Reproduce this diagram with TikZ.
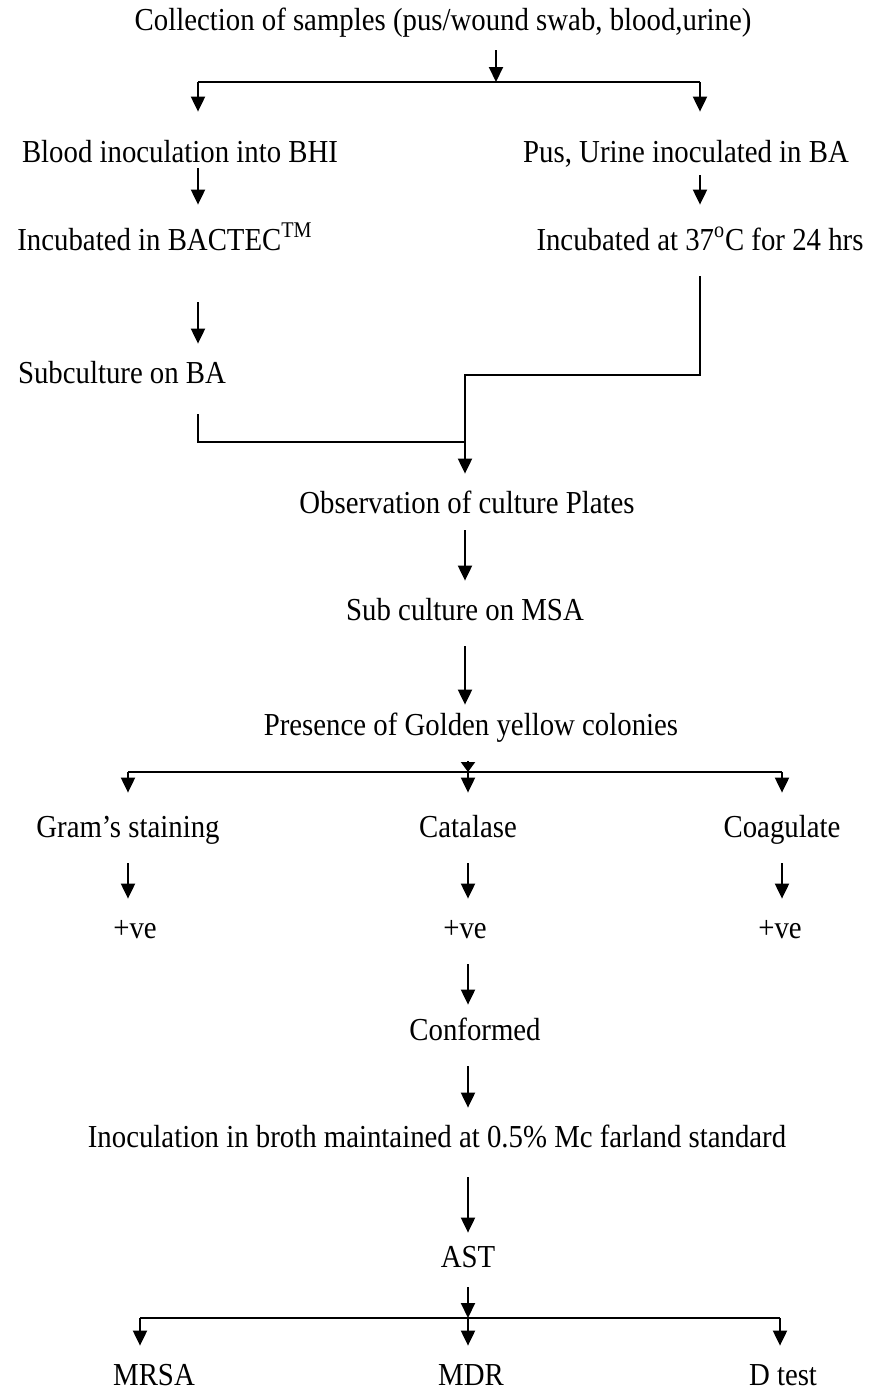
\documentclass[tikz,border=0pt]{standalone}
\usepackage{fontspec}
\setmainfont[FakeStretch=0.9]{Liberation Serif}
\usetikzlibrary{arrows.meta}
\tikzset{
    txt/.style = {inner xsep=0pt, inner ysep=9pt, text height=10.5pt, text depth=4pt, anchor=base, font=\fontsize{16}{19}\selectfont},
    edgea/.style = {-{Triangle[length=7.5pt,width=7pt]}, line width=1pt},
    edgeh/.style = {-{Triangle[length=5pt,width=7pt]}, line width=1pt}, % short head
    edgep/.style = {-, line width=1pt},
}
\begin{document}
\begin{tikzpicture}[x=0.5pt,y=-0.5pt]
\useasboundingbox (0,0) rectangle (886,1394);
%
\node[txt] at (443,30) (coll) {Collection of samples (pus/wound swab, blood,urine)};
\node[txt] at (180,162) (blood) {Blood inoculation into BHI};
\node[txt] at (686,162) (pus) {Pus, Urine inoculated in BA};
\node[txt] at (165,250) (incl) {Incubated in BACTEC\textsuperscript{TM}};
\node[txt] at (700,250) (incr) {Incubated at 37\textsuperscript{o}C for 24 hrs};
\node[txt] at (122,383) (subba) {Subculture on BA};
\node[txt] at (467,513) (obs) {Observation of culture Plates};
\node[txt] at (465,620) (msa) {Sub culture on MSA};
\node[txt] at (471,735) (pres) {Presence of Golden yellow colonies};
\node[txt] at (128,837) (gram) {Gram’s staining};
\node[txt] at (468,837) (cat) {Catalase};
\node[txt] at (782,837) (coag) {Coagulate};
\node[txt] at (135,938) (pos1) {+ve};
\node[txt] at (465,938) (pos2) {+ve};
\node[txt] at (780,938) (pos3) {+ve};
\node[txt] at (475,1040) (conf) {Conformed};
\node[txt] at (437,1147) (inoc) {Inoculation in broth maintained at 0.5\% Mc farland standard};
\node[txt] at (468,1267) (ast) {AST};
\node[txt] at (154,1385) (mrsa) {MRSA};
\node[txt] at (471,1385) (mdr) {MDR};
\node[txt] at (783,1385) (dtest) {D test};
%
\coordinate (top) at (496,82);
\coordinate (fl) at (198,82);
\coordinate (fr) at (700,82);
\coordinate (jn) at (465,375);
\coordinate (jn2) at (465,442);
\coordinate (mid) at (468,772);
\coordinate (gl) at (128,772);
\coordinate (gr) at (782,772);
\coordinate (bot) at (468,1318);
\coordinate (bl) at (140,1318);
\coordinate (br) at (780,1318);
%
\draw[edgea,shorten <=-3pt] (coll.south -| top) -- (top);
\draw[edgep] (fl) -- (fr);
\draw[edgea,shorten >=5.5pt] (fl) -- (blood.north -| fl);
\draw[edgea,shorten >=5.5pt] (fr) -- (pus.north -| fr);
\draw[edgea,shorten <=-10pt,shorten >=3pt] (blood.south -| fl) -- (incl.north -| fl);
\draw[edgea,shorten <=-6.5pt,shorten >=3pt] (pus.south -| fr) -- (incr.north -| fr);
\draw[edgea,shorten <=13pt] (incl.south -| fl) -- (subba.north -| fl);
\draw[edgea] (incr.south -| fr) |- (jn) -- (obs.north -| jn);
\draw[edgep,shorten <=2.5pt] (subba.south -| fl) |- (jn2);
\draw[edgea,shorten <=-4.5pt] (obs.south -| jn) -- (msa.north -| jn);
\draw[edgea,shorten >=-4.5pt] (msa.south -| jn) -- (pres.north -| jn);
%
\draw[edgeh] (pres.south -| mid) -- (mid);
\draw[edgep] (gl) -- (gr);
\draw[edgea,shorten >=2.5pt] (gl) -- (gram.north -| gl);
\draw[edgea,shorten >=2.5pt] (mid) -- (cat.north -| mid);
\draw[edgea,shorten >=2.5pt] (gr) -- (coag.north -| gr);
\draw[edgea] (gram.south -| gl) -- (pos1.north -| gl);
\draw[edgea] (cat.south -| mid) -- (pos2.north -| mid);
\draw[edgea] (coag.south -| gr) -- (pos3.north -| gr);
\draw[edgea,shorten >=-2pt] (pos2.south -| mid) -- (conf.north -| mid);
\draw[edgea] (conf.south -| mid) -- (inoc.north -| mid);
\draw[edgea,shorten <=2pt,shorten >=-2.5pt] (inoc.south -| mid) -- (ast.north -| mid);
%
\draw[edgea,shorten <=-3pt] (ast.south -| bot) -- (bot);
\draw[edgep] (bl) -- (br);
\draw[edgea] (bl) -- (mrsa.north -| bl);
\draw[edgea] (bot) -- (mdr.north -| bot);
\draw[edgea] (br) -- (dtest.north -| br);
\end{tikzpicture}
\end{document}
